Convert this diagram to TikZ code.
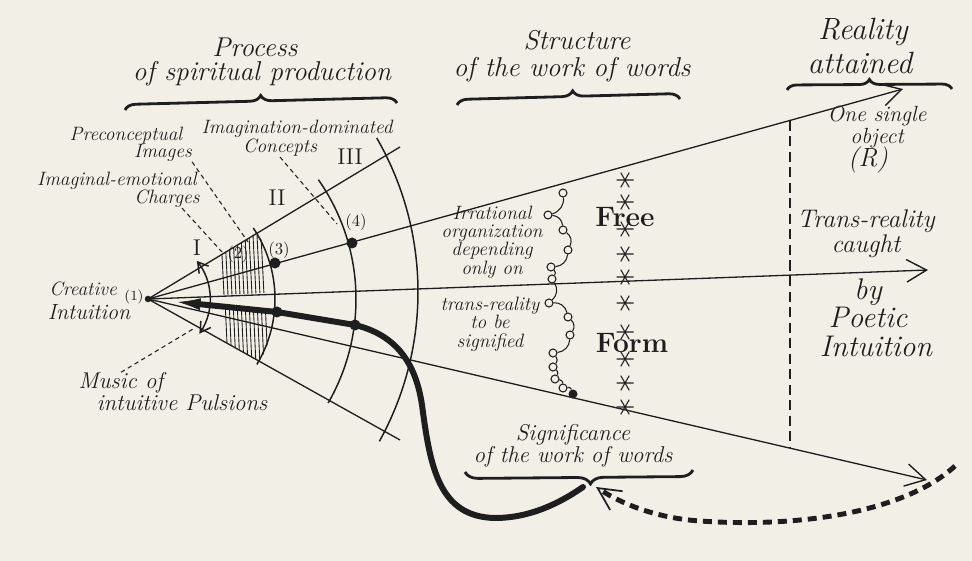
\documentclass[tikz,border=0pt]{standalone}
\usepackage{xcolor}
\usepackage{tikz}
\usetikzlibrary{arrows.meta, decorations.pathreplacing, positioning}

\definecolor{paper}{RGB}{242,240,230}
\definecolor{ink}{RGB}{30,30,30}

\begin{document}
\begin{tikzpicture}[
        x=0.2mm, y=-0.2mm, color=ink,
        head/.style={font=\itshape\fontsize{15.5}{15}\selectfont, inner sep=0pt, align=center},
        headl/.style={font=\itshape\fontsize{17.5}{17}\selectfont, inner sep=0pt, align=center},
        lab/.style={font=\itshape\fontsize{11}{10.5}\selectfont, inner sep=0pt, align=center},
        labm/.style={font=\itshape\fontsize{13}{12.5}\selectfont, inner sep=0pt, align=center},
        num/.style={font=\fontsize{9.5}{9.5}\selectfont, inner sep=0pt},
        roman/.style={font=\fontsize{13}{13}\selectfont, inner sep=0pt},
        big/.style={font=\bfseries\fontsize{16}{16}\selectfont, inner sep=0pt},
        dot/.style={circle, fill=ink, inner sep=0pt, minimum size=2.2mm},
        note/.style={circle, draw=ink, fill=paper, line width=0.6pt, inner sep=0pt, minimum size=1.6mm},
        astx/.style={inner sep=0pt, minimum size=3.4mm, path picture={
            \draw[line width=0.6pt]
              ([shift={(180:1.7mm)}]path picture bounding box.center) -- ([shift={(0:1.7mm)}]path picture bounding box.center)
              ([shift={(60:1.7mm)}]path picture bounding box.center) -- ([shift={(240:1.7mm)}]path picture bounding box.center)
              ([shift={(120:1.7mm)}]path picture bounding box.center) -- ([shift={(300:1.7mm)}]path picture bounding box.center);}},
        ray/.style={line width=0.75pt},
        arrow/.style={ray, -{Straight Barb[length=4mm, width=4.5mm, line width=0.8pt]}},
        arcline/.style={line width=0.85pt},
        lead/.style={line width=0.6pt, dash pattern=on 2.5pt off 2pt},
        brc/.style={line width=1.6pt, decorate, decoration={brace, amplitude=2.2mm}},
        thickpath/.style={line width=3.4pt, line cap=round},
        dashthick/.style={line width=2.8pt, dash pattern=on 1.8mm off 1.2mm},
        vdash/.style={line width=1.1pt, dash pattern=on 2mm off 1.1mm},
        hatch/.style={line width=0.5pt}
    ]
        % Paper
        \fill[paper] (0,0) rectangle (972,561);
        \useasboundingbox (0,0) rectangle (972,561);

        % Points of the fan
        \coordinate (A) at (148,299);
        \coordinate (C) at (110,292);
        \coordinate (bup) at (400,147);
        \coordinate (bdown) at (400,440);
        \coordinate (rtop) at (903,89);
        \coordinate (rmid) at (928,270);
        \coordinate (rlow) at (927,480);
        \coordinate (vtop) at (790,121);
        \coordinate (vbot) at (790,447);

        % Hatching
        \begin{scope}
            \clip (A) -- ([shift={(-31:128)}]A) arc[start angle=-31, end angle=-3, radius=128] -- cycle;
            \foreach \hx in {221,225,...,262} \draw[hatch] (\hx,235) -- ++(3,60);
        \end{scope}
        \begin{scope}
            \clip (A) -- ([shift={(7:128)}]A) arc[start angle=7, end angle=29, radius=128] -- cycle;
            \foreach \hx in {225,229,...,266} \draw[hatch] (\hx,300) -- ++(3,65);
        \end{scope}

        % Rays
        \draw[ray] (A) -- (bup);
        \draw[ray] (A) -- (bdown);
        \draw[arrow] (A) -- (rtop);
        \draw[arrow] (A) -- (rmid);
        \draw[arrow] (A) -- (rlow);
        \draw[vdash] (vtop) -- (vbot);

        % Arcs
        \draw[arcline, {Straight Barb[length=2mm, width=2.4mm]}-{Straight Barb[length=2mm, width=2.4mm]}]
            ([shift={(-38:62)}]A) arc[start angle=-38, end angle=34, radius=62];
        \draw[arcline] ([shift={(-34:127)}]A) arc[start angle=-34, end angle=31, radius=127];
        \draw[arcline] ([shift={(-35:208)}]A) arc[start angle=-35, end angle=30, radius=208];
        \draw[arcline] ([shift={(-30:308)}]C) arc[start angle=-30, end angle=29, radius=308];

        % Dots
        \node[dot, minimum size=1.3mm] (apex) at (A) {};
        \node[dot] (d3) at (275,263) {};
        \node[dot] (d4) at (352,243) {};
        \node[dot] (d5) at (277,312) {};
        \node[dot] (d6) at (355,325) {};

        % Thick line and dashed return
        \coordinate (tp0) at (178,302);
        \coordinate (tp1) at (583,487);
        \draw[thickpath, {Latex[length=4.5mm, width=2.4mm, line width=0.4pt]}-] (tp0) -- (d5.center) -- (d6.center)
            .. controls (392,334) and (415,358) .. (422,405)
            .. controls (430,465) and (438,517) .. (495,518)
            .. controls (530,518) and (560,503) .. (tp1);
        \coordinate (ds0) at (955,466);
        \coordinate (ds1) at (596,487);
        \draw[dashthick, -{Straight Barb[length=4.5mm, width=4.5mm, line width=1pt]}] (ds0)
            .. controls (905,512) and (800,528) .. (700,521)
            .. controls (655,518) and (620,503) .. (ds1);

        % Chain of notes and column of stars
        \foreach \p [count=\i] in {{563,193},{548,215},{563,230},{568,250},{551,267},{552,279},{549,303},{568,317},{570,335},{553,353},{553,367},{555,379},{563,388}}
            \node[note] (nt\i) at (\p) {};
        \node[dot, minimum size=1.8mm] (nt14) at (573,394) {};
        \foreach \i [evaluate=\i as \j using int(\i+1)] in {1,...,13}
            \draw[line width=0.6pt] (nt\i) to[bend left=40] (nt\j);
        \foreach \sy [count=\i] in {180,202,229,254,277,303,332,359,383,407}
            \node[astx] (st\i) at (625,\sy) {};

        % Headings
        \node[head] (proc1) at (255,47) {Process};
        \node[head] (proc2) at (262,74) {of spiritual production};
        \node[head] (struc1) at (577,40) {Structure};
        \node[head] (struc2) at (572,70) {of the work of words};
        \node[headl] (real1) at (863,32) {Reality};
        \node[headl] (real2) at (860,63) {attained};
        \draw[brc] (125,110) -- (397,103);
        \draw[brc, decoration={aspect=0.52}] (457,105) -- (680,99);
        \draw[brc, decoration={amplitude=2mm}] (787,90) -- (952,89);
        \draw[brc, decoration={mirror, aspect=0.55, amplitude=2.6mm}] (465,472) -- (693,470);

        % Left labels
        \node[lab] (pre1) at (126,136) {Preconceptual};
        \node[lab] (pre2) at (163,153) {Images};
        \node[lab] (img1) at (297,129) {Imagination-dominated};
        \node[lab] (img2) at (280,148) {Concepts};
        \node[lab] (chg1) at (117,181) {Imaginal-emotional};
        \node[lab] (chg2) at (167,199) {Charges};
        \node[roman] (r1) at (197,248) {I};
        \node[roman] (r2) at (277,198) {II};
        \node[roman] (r3) at (350,157) {III};
        \node[num] (n2) at (238,254) {(2)};
        \node[num] (n3) at (279,250) {(3)};
        \node[num] (n4) at (356,222) {(4)};
        \node[lab] (cre1) at (83,289) {Creative};
        \node[num, font=\fontsize{8}{8}\selectfont] (n1) at (134,297) {(1)};
        \node[labm, font=\itshape\fontsize{12.5}{12}\selectfont] (cre2) at (89,312) {Intuition};
        \node[labm] (mus1) at (121,383) {Music of};
        \node[labm] (mus2) at (182,403) {intuitive Pulsions};

        % Leaders
        \coordinate (lp2) at (248,242);
        \coordinate (lc2) at (222,252);
        \coordinate (li2) at (337,224);
        \coordinate (lm1) at (193,329);
        \draw[lead] (pre2.south east) -- (lp2);
        \draw[lead] ([xshift=3mm]chg2.south) -- (lc2);
        \draw[lead] (img2.south) -- (li2);
        \draw[lead] (mus1.north) -- (lm1);

        % Structure labels
        \node[lab] (irr) at (492,242) {Irrational\\organization\\depending\\only on};
        \node[lab] (trs) at (490,324) {trans-reality\\to be\\signified};
        \node[big] (free) at (625,217) {Free};
        \node[big] (form) at (632,343) {Form};
        \node[labm] (sig) at (573,446) {Significance\\of the work of words};

        % Right labels
        \node[lab, font=\itshape\fontsize{12.5}{10}\selectfont] (one) at (877,127) {One single\\object};
        \node[lab, font=\itshape\fontsize{15}{15}\selectfont] (rr) at (868,160) {(R)};
        \node[lab, font=\itshape\fontsize{14.5}{13}\selectfont] (tr) at (866,234) {Trans-reality\\caught};
        \node[headl, font=\itshape\fontsize{17}{15}\selectfont] (poet) at (868,303) {by\\Poetic};
        \node[headl, font=\itshape\fontsize{17}{15}\selectfont] (intu) at (876,346) {Intuition};
    \end{tikzpicture}
\end{document}
